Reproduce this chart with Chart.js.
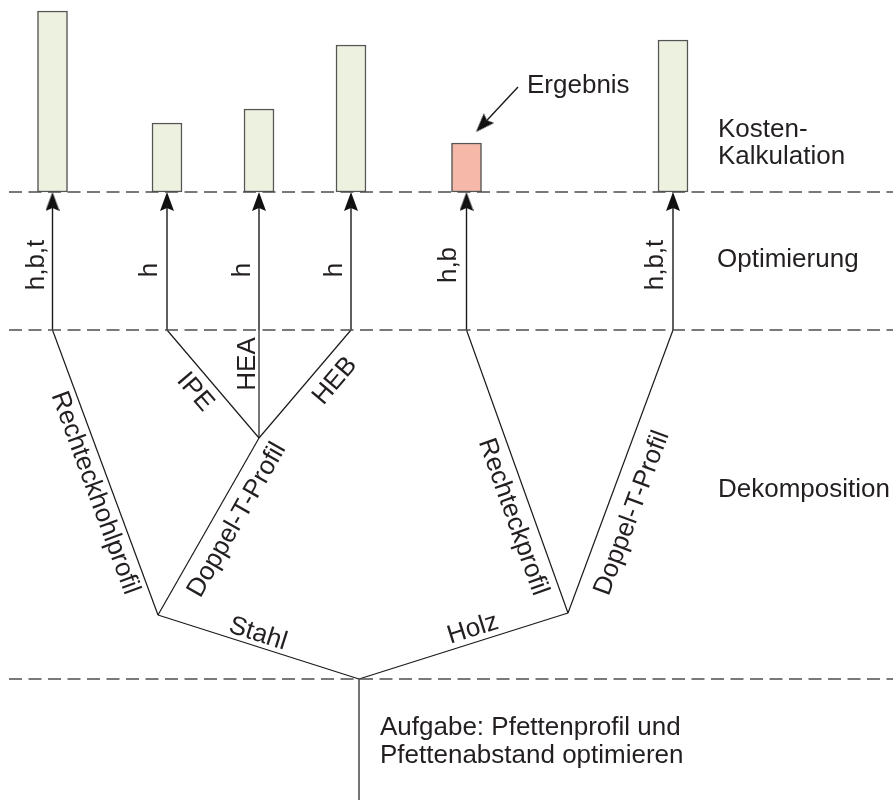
<!DOCTYPE html>
<html>
<head>
<meta charset="utf-8">
<script src="https://cdn.jsdelivr.net/npm/chart.js@4.4.1/dist/chart.umd.min.js"></script>
<style>
  html, body { margin: 0; padding: 0; background: #fff; }
  #wrap { width: 893px; height: 800px; position: relative; }
</style>
</head>
<body>
<div id="wrap"><canvas id="myChart"></canvas></div>
<script>
// leaves of the decision tree (left to right) and their cost bars
const leafX = [52.5, 167, 259, 351, 466.5, 673];
const costs = [181, 69, 83, 147, 49, 152];
const barColors = ['#edf1df', '#edf1df', '#edf1df', '#edf1df', '#f5b8a9', '#edf1df'];
const resultIndex = 4; // "Ergebnis"

// level borders, measured from the top
const levelY = [192, 330, 679];
const levelNames = [['Kosten-', 'Kalkulation'], ['Optimierung'], ['Dekomposition']];

// inner nodes of the tree
const nodeNames = ['root', 'stahl', 'holz', 'doppelT'];
const nodeX = [359, 158, 568, 259];
const nodeY = [679, 615, 613, 438];

// edges: [from, to]  (numbers = leaf index)
const edges = [
    ['root', 'stahl'], ['root', 'holz'],
    ['stahl', 0], ['stahl', 'doppelT'],
    ['doppelT', 1], ['doppelT', 2], ['doppelT', 3],
    ['holz', 4], ['holz', 5]
];

const textColor = '#231f20';
const font = '26px "Liberation Sans", Arial, sans-serif';

// rotated labels (center x, center y, angle in degrees)
const labels = [
    { text: 'h,b,t', x: 37, y: 265, rot: -90 },
    { text: 'h', x: 149.5, y: 270, rot: -90 },
    { text: 'h', x: 243, y: 270, rot: -90 },
    { text: 'h', x: 334.5, y: 270, rot: -90 },
    { text: 'h,b', x: 449, y: 265, rot: -90 },
    { text: 'h,b,t', x: 656, y: 265, rot: -90 },
    { text: 'HEA', x: 248, y: 364, rot: -90 },
    { text: 'IPE', x: 195, y: 392, rot: 49.6 },
    { text: 'HEB', x: 335, y: 381, rot: -49.6 },
    { text: 'Rechteckhohlprofil', x: 95, y: 493, rot: 69.8 },
    { text: 'Doppel-T-Profil', x: 237, y: 520, rot: -60.3 },
    { text: 'Stahl', x: 258, y: 634, rot: 17.7 },
    { text: 'Holz', x: 473, y: 629, rot: -17.5 },
    { text: 'Rechteckprofil', x: 513, y: 517, rot: 70.4 },
    { text: 'Doppel-T-Profil', x: 632, y: 513, rot: -69.6 }
];

// plain horizontal text (left, baseline)
const notes = [
    { text: 'Ergebnis', x: 527, y: 93 },
    { text: levelNames[0][0], x: 718, y: 137 },
    { text: levelNames[0][1], x: 718, y: 164 },
    { text: levelNames[1][0], x: 717, y: 267 },
    { text: levelNames[2][0], x: 718, y: 497 },
    { text: 'Aufgabe: Pfettenprofil und', x: 380, y: 735 },
    { text: 'Pfettenabstand optimieren', x: 380, y: 763 }
];

function nodePos(n) {
    if (typeof n === 'number') return { x: leafX[n], y: levelY[1] };
    const i = nodeNames.indexOf(n);
    return { x: nodeX[i], y: nodeY[i] };
}

// arrowhead used as point style
function makeArrowHead(w, h) {
    const c = document.createElement('canvas');
    c.width = w; c.height = h;
    const g = c.getContext('2d');
    g.fillStyle = '#111';
    g.beginPath();
    g.moveTo(w / 2, 0);
    g.lineTo(w, h);
    g.lineTo(w / 2, h - 3);
    g.lineTo(0, h);
    g.closePath();
    g.fill();
    return c;
}
const arrowHead = makeArrowHead(14, 19);

const textPlugin = {
    id: 'diagramText',
    afterDatasetsDraw(chart) {
        const ctx = chart.ctx;
        const xs = chart.scales.x, ys = chart.scales.y;
        ctx.save();
        ctx.fillStyle = textColor;
        ctx.font = font;
        ctx.textAlign = 'center';
        ctx.textBaseline = 'middle';
        labels.forEach(l => {
            ctx.save();
            ctx.translate(xs.getPixelForValue(l.x), ys.getPixelForValue(l.y));
            ctx.rotate(l.rot * Math.PI / 180);
            ctx.fillText(l.text, 0, 0);
            ctx.restore();
        });
        ctx.textAlign = 'left';
        ctx.textBaseline = 'alphabetic';
        notes.forEach(n => {
            ctx.fillText(n.text, xs.getPixelForValue(n.x), ys.getPixelForValue(n.y));
        });
        ctx.restore();
    }
};

const datasets = [];

// dashed level borders
levelY.forEach(y => {
    datasets.push({
        type: 'scatter', showLine: true,
        data: [{ x: 9, y: y }, { x: 893, y: y }],
        borderColor: '#4d4d4d', borderWidth: 1.5, borderDash: [13, 6.5],
        pointRadius: 0
    });
});

// cost bars
datasets.push({
    type: 'bar',
    data: leafX.map((x, i) => ({ x: x, y: [levelY[0], levelY[0] - costs[i]] })),
    backgroundColor: barColors,
    borderColor: '#555',
    borderWidth: 1.5,
    borderSkipped: false,
    barThickness: 30
});

// tree edges
edges.forEach(e => {
    datasets.push({
        type: 'scatter', showLine: true,
        data: [nodePos(e[0]), nodePos(e[1])],
        borderColor: '#1a1a1a', borderWidth: 1.2, pointRadius: 0
    });
});
// stem of the root
datasets.push({
    type: 'scatter', showLine: true,
    data: [nodePos('root'), { x: nodeX[0], y: 800 }],
    borderColor: '#1a1a1a', borderWidth: 1.2, pointRadius: 0
});

// optimisation arrows from leaves up to the cost bars
leafX.forEach(x => {
    datasets.push({
        type: 'scatter', showLine: true,
        data: [{ x: x, y: levelY[1] }, { x: x, y: levelY[0] + 12 }],
        borderColor: '#1a1a1a', borderWidth: 1.4, pointRadius: 0
    });
});
datasets.push({
    type: 'scatter',
    data: leafX.map(x => ({ x: x, y: levelY[0] + 9.5 })),
    pointStyle: arrowHead, pointRadius: 10, pointRotation: 0
});

// "Ergebnis" pointer
const ptrStart = { x: 518, y: 87 };
const ptrTip = { x: leafX[resultIndex] + 9.5, y: levelY[0] - costs[resultIndex] - 11 };
const dx = ptrTip.x - ptrStart.x, dy = ptrTip.y - ptrStart.y;
const len = Math.hypot(dx, dy);
datasets.push({
    type: 'scatter', showLine: true,
    data: [ptrStart, { x: ptrTip.x - dx / len * 12, y: ptrTip.y - dy / len * 12 }],
    borderColor: '#1a1a1a', borderWidth: 1.4, pointRadius: 0
});
datasets.push({
    type: 'scatter',
    data: [{ x: ptrTip.x - dx / len * 9.5, y: ptrTip.y - dy / len * 9.5 }],
    pointStyle: arrowHead, pointRadius: 10,
    pointRotation: Math.atan2(dx, -dy) * 180 / Math.PI
});

new Chart('myChart', {
    type: 'scatter',
    data: { datasets: datasets },
    options: {
        responsive: true,
        maintainAspectRatio: false,
        animation: false,
        events: [],
        layout: { padding: 0, autoPadding: false },
        plugins: { legend: { display: false }, tooltip: { enabled: false } },
        scales: {
            x: { type: 'linear', min: 0, max: 893, display: false, offset: false },
            y: { type: 'linear', min: 0, max: 800, reverse: true, display: false }
        }
    },
    plugins: [textPlugin]
});
</script>
</body>
</html>
